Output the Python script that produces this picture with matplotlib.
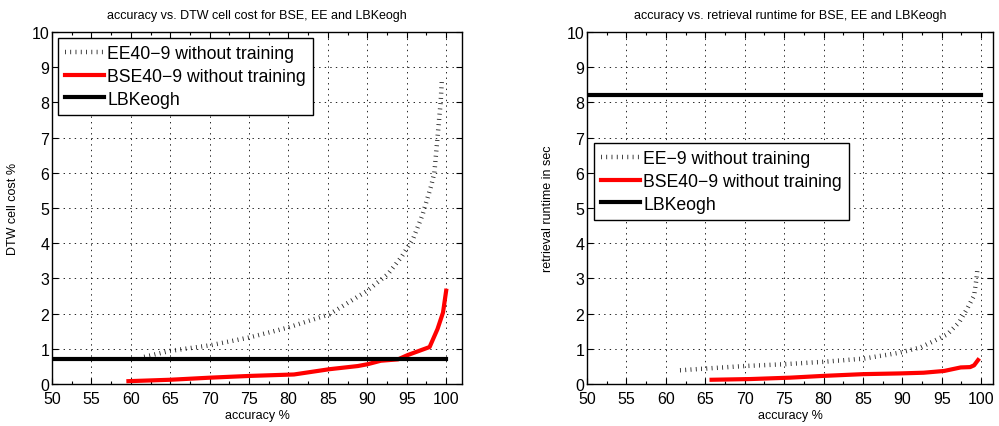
import numpy as np
from matplotlib import pyplot as plt
from matplotlib.ticker import MultipleLocator

plt.rcParams["font.family"] = ["Liberation Sans", "DejaVu Sans"]
plt.rcParams["lines.scale_dashes"] = False

# accuracy vs. DTW cell cost
cost_ee_acc = [61.7, 65.0, 70.1, 75.0, 79.9, 85.2, 90.0, 92.6, 94.3, 95.8, 96.8, 97.0, 98.1, 98.5, 98.9, 99.3, 99.45]
cost_ee = [0.77, 0.94, 1.10, 1.32, 1.60, 1.98, 2.65, 3.12, 3.60, 4.12, 4.69, 4.81, 5.63, 6.00, 7.00, 8.00, 8.62]
cost_bse_acc = [59.7, 65.0, 70.1, 75.2, 80.7, 85.2, 88.8, 90.0, 91.7, 93.9, 95.1, 97.9, 98.9, 99.6, 100.0]
cost_bse = [0.08, 0.12, 0.18, 0.23, 0.27, 0.42, 0.51, 0.56, 0.66, 0.70, 0.82, 1.05, 1.56, 2.03, 2.65]
cost_lbk = 0.71

# accuracy vs. retrieval runtime
rt_ee_acc = [61.8, 65.2, 70.0, 74.9, 80.0, 85.1, 89.7, 92.3, 94.0, 95.7, 97.2, 98.2, 99.1, 99.4, 99.5]
rt_ee = [0.39, 0.44, 0.51, 0.56, 0.63, 0.72, 0.89, 1.04, 1.22, 1.41, 1.75, 2.13, 2.51, 2.98, 3.22]
rt_bse_acc = [65.8, 70.7, 75.8, 80.0, 85.1, 89.7, 92.7, 95.3, 97.4, 98.6, 99.1, 99.6]
rt_bse = [0.12, 0.14, 0.18, 0.23, 0.28, 0.30, 0.32, 0.37, 0.47, 0.48, 0.53, 0.68]
rt_lbk = 8.2

acc_range = [50, 100]

EE_DASH = dict(color="#202020", linewidth=3.2, dashes=(0.6, 3.2), dash_capstyle="butt")
LEG_KW = dict(borderaxespad=0, fontsize=12.7, handlelength=2.2, handletextpad=0.2,
              labelspacing=0.33, borderpad=0.4, fancybox=False, framealpha=1, edgecolor="black")


def style_axes(ax, xmax):
    ax.set_xlim(50, xmax)
    ax.set_ylim(0, 10)
    ax.xaxis.set_major_locator(MultipleLocator(5))
    ax.xaxis.set_minor_locator(MultipleLocator(2.5))
    ax.yaxis.set_major_locator(MultipleLocator(1))
    ax.tick_params(which="both", direction="in", top=True, right=True, labelsize=11.5)
    ax.tick_params(axis="x", pad=5)
    ax.tick_params(axis="y", pad=2)
    ax.tick_params(which="major", length=4, width=0.8)
    ax.tick_params(which="minor", length=2.5, width=0.8)
    ax.grid(True, which="major", linestyle=(0, (1, 3)), color="black", linewidth=0.6)
    for s in ax.spines.values():
        s.set_linewidth(1.0)


fig = plt.figure(figsize=(9.99, 4.27), dpi=100)
ax1 = fig.add_axes([0.052, 0.0984, 0.4104, 0.8244])
ax2 = fig.add_axes([0.5876, 0.0984, 0.4064, 0.8244])

ax1.plot(cost_ee_acc, cost_ee, label="EE40\u22129 without training", **EE_DASH)
ax1.plot(cost_bse_acc, cost_bse, color="red", linewidth=3, label="BSE40\u22129 without training")
ax1.plot(acc_range, [cost_lbk, cost_lbk], color="black", linewidth=3, label="LBKeogh")
style_axes(ax1, 102)
ax1.set_title("accuracy vs. DTW cell cost for BSE, EE and LBKeogh", fontsize=9, pad=10)
ax1.set_xlabel("accuracy %", fontsize=9, labelpad=2)
ax1.set_ylabel("DTW cell cost %", fontsize=9, labelpad=9)
leg1 = ax1.legend(loc="upper left", bbox_to_anchor=(0.0146, 0.983), **LEG_KW)
leg1.get_frame().set_linewidth(1.0)

ax2.plot(rt_ee_acc, rt_ee, label="EE\u22129 without training", **EE_DASH)
ax2.plot(rt_bse_acc, rt_bse, color="red", linewidth=3, label="BSE40\u22129 without training")
ax2.plot(acc_range, [rt_lbk, rt_lbk], color="black", linewidth=3, label="LBKeogh")
style_axes(ax2, 101.5)
ax2.set_title("accuracy vs. retrieval runtime for BSE, EE and LBKeogh", fontsize=9, pad=10)
ax2.set_xlabel("accuracy %", fontsize=9, labelpad=2)
ax2.set_ylabel("retrieval runtime in sec", fontsize=9, labelpad=9)
leg2 = ax2.legend(loc="upper left", bbox_to_anchor=(0.017, 0.685), **LEG_KW)
leg2.get_frame().set_linewidth(1.0)

fig.savefig("out.png", dpi=100)
